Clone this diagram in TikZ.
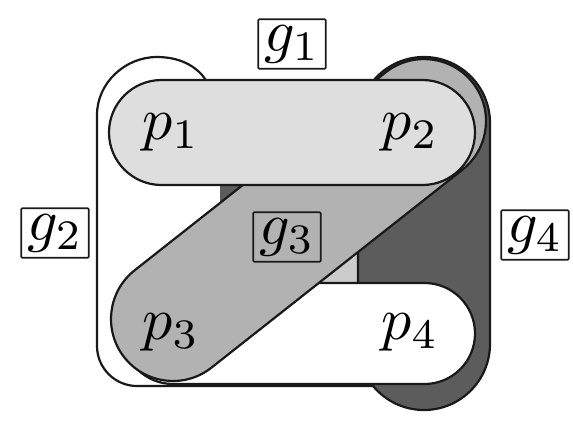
\documentclass[tikz,border=0pt]{standalone}
\definecolor{cgone}{gray}{0.87}
\definecolor{cgthree}{gray}{0.70}
\definecolor{cgfour}{gray}{0.36}
\definecolor{cdark}{gray}{0.36}
\definecolor{clight}{gray}{0.80}
\definecolor{cline}{gray}{0.10}
\begin{document}
\begin{tikzpicture}[x=1pt,y=-1pt,
  hedge/.style={draw=cline, line width=2.2pt},
  vlabel/.style={font=\fontsize{10}{12}\selectfont, inner sep=0pt, scale=6, transform shape},
  elabel/.style={font=\fontsize{10}{12}\selectfont, draw=cline, line width=1.7pt, rounded corners=1pt, inner sep=1pt, scale=6, transform shape}]
\useasboundingbox (0,0) rectangle (573,421);
% g2 (white) fill
\fill[white] (97,115) .. controls (97,83) and (125,57) .. (157,57) .. controls (182,57) and (199,68) .. (207,82) -- (220,100) -- (220,300) -- (358,300) -- (358,386) -- (137,386) .. controls (115,386) and (97,368) .. (97,346) -- cycle;
% small visible patches
\fill[cdark] (220,183) rectangle (252,216);
\fill[clight] (300,245) rectangle (358,290);
% g2 visible outline
\draw[hedge] (207,82) .. controls (199,68) and (182,57) .. (157,57) .. controls (125,57) and (97,83) .. (97,115) -- (97,346) .. controls (97,368) and (115,386) .. (137,386) -- (380,386);
% g4
\draw[hedge, fill=cgfour, rounded corners=66pt] (358,57) rectangle (490,410);
% bottom white band (p3-p4)
\draw[hedge, fill=white, rounded corners=50.5pt] (122.5,283) rectangle (475,384);
% g3 diagonal
\draw[hedge, fill=cgthree, rounded corners=62pt, rotate around={38.26:(173,319)}] (111,257) rectangle (554.7,381);
% g1
\draw[hedge, fill=cgone, rounded corners=52.5pt] (109,80) rectangle (475,185);
% vertices
\node[vlabel] (p1) at (171,132) {$p_1$};
\node[vlabel] (p2) at (410,132) {$p_2$};
\node[vlabel] (p3) at (171,332) {$p_3$};
\node[vlabel] (p4) at (410,332) {$p_4$};
% edge labels
\node[elabel] (g1) at (292,44) {$g_1$};
\node[elabel] (g2) at (55,233) {$g_2$};
\node[elabel] (g3) at (287,237) {$g_3$};
\node[elabel] (g4) at (535,235) {$g_4$};
\end{tikzpicture}
\end{document}
